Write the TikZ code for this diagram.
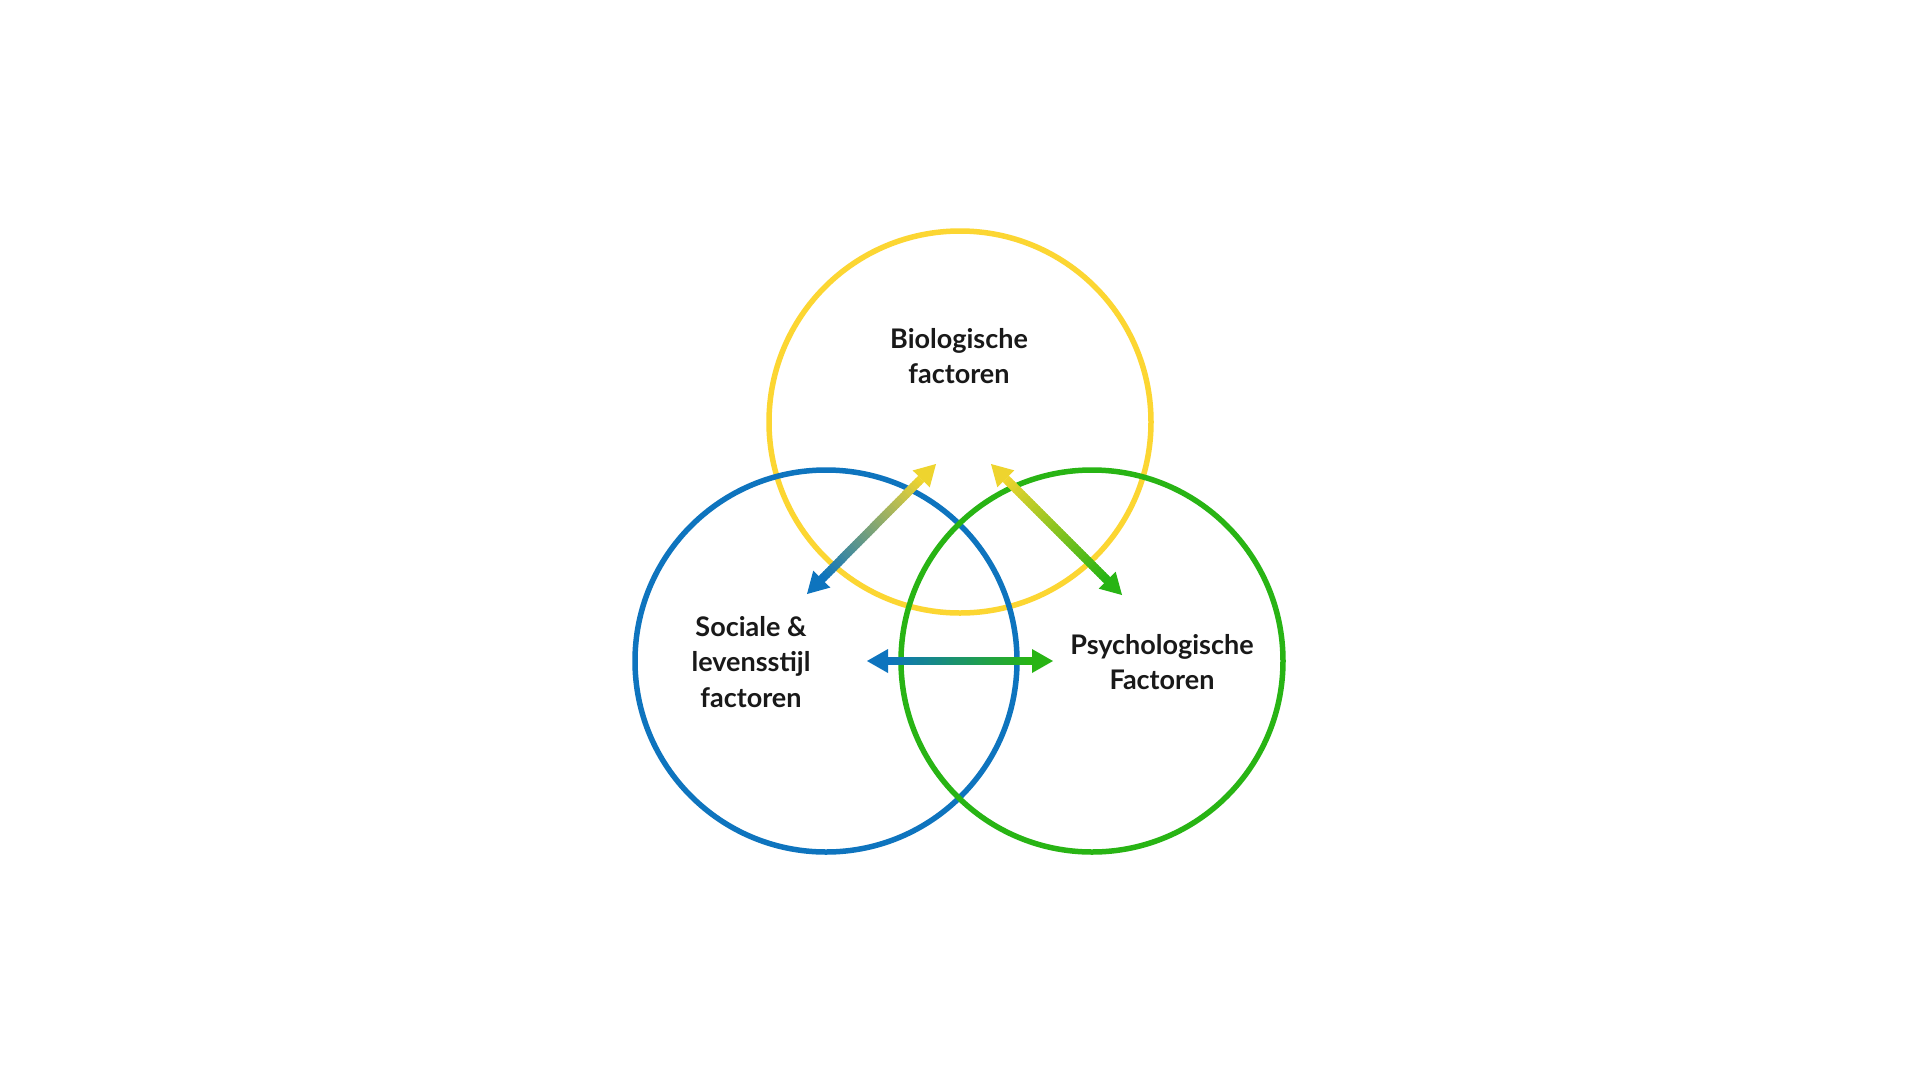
\documentclass[tikz,border=0pt]{standalone}
\usepackage{fontspec}
\setmainfont{Lato}
\usetikzlibrary{calc}
\definecolor{cyel}{RGB}{252,214,50}
\definecolor{cblu}{RGB}{14,116,190}
\definecolor{cgrn}{RGB}{40,180,20}
\definecolor{cyelarrow}{RGB}{238,212,46}
\tikzset{
  ring/.style={line width=5.5pt},
  lbl/.style={align=center, font=\bfseries\fontsize{27}{35.5}\selectfont, text=black!90, inner sep=0pt},
}
\newcommand\gradarrow[4]{%
  \coordinate (ga1) at ($(#1)!21pt!(#2)$);
  \coordinate (ga2) at ($(#2)!21pt!(#1)$);
  \foreach \i in {0,...,39}{%
    \pgfmathtruncatemacro\pc{100-\i*100/39}%
    \draw[line width=8.5pt, color=#3!\pc!#4] ($(ga1)!{\i/40}!(ga2)$) -- ($(ga1)!{(\i+1.4)/40}!(ga2)$);
  }
  \fill[#3] (#1) -- ($(ga1)!12pt!90:(#1)$) -- ($(ga1)!12pt!-90:(#1)$) -- cycle;
  \fill[#4] (#2) -- ($(ga2)!12pt!90:(#2)$) -- ($(ga2)!12pt!-90:(#2)$) -- cycle;
}
\begin{document}
\begin{tikzpicture}[x=1pt,y=-1pt]
\useasboundingbox[fill=white] (0,0) rectangle (1920,1080);
% circles
\draw[ring, cyel] (960,422) circle[radius=191];
\draw[ring, cblu] (826,661) circle[radius=191];
\draw[ring, cgrn] (1092,661) circle[radius=191];
% arrow end points
\coordinate (bioL) at (936,464);
\coordinate (soc) at (807,594);
\coordinate (bioR) at (991,464);
\coordinate (psy) at (1122,595);
\coordinate (socH) at (867,661);
\coordinate (psyH) at (1053,661);
\gradarrow{bioL}{soc}{cyelarrow}{cblu}
\gradarrow{bioR}{psy}{cyelarrow}{cgrn}
\gradarrow{socH}{psyH}{cblu}{cgrn}
% labels
\node[lbl] (tbio) at (959,356) {Biologische\\factoren};
\node[lbl] (tsoc) at (751,662) {Sociale \&\\levensstijl\\factoren};
\node[lbl] (tpsy) at (1162,662) {Psychologische\\Factoren};
\end{tikzpicture}
\end{document}
